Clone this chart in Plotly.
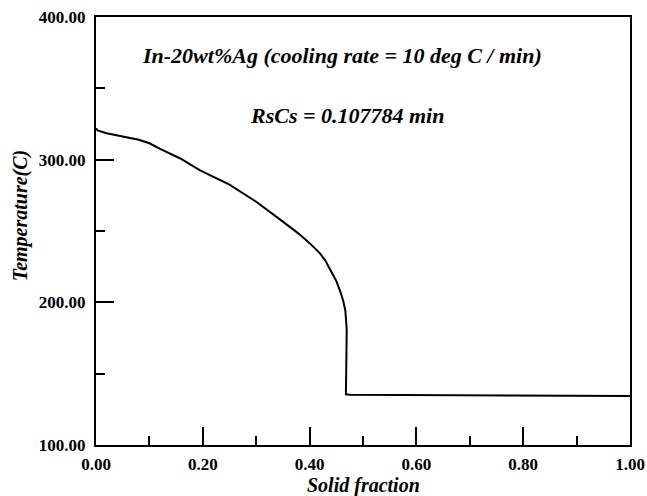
import plotly.graph_objects as go

solid_fraction = [0, 0.003, 0.02, 0.05, 0.08, 0.10, 0.12, 0.157, 0.195, 0.25, 0.30, 0.345, 0.38,
                  0.40, 0.419, 0.43, 0.44, 0.45, 0.458, 0.463, 0.467, 0.4695, 0.469, 0.468,
                  0.4675, 0.468, 0.475, 0.6, 0.8, 1.0]
temperature = [322, 320.5, 318.5, 316.5, 314, 311.5, 307.5, 301, 292.5, 282.5, 270.5, 258, 248,
               241.5, 234.5, 229, 222.5, 215, 207, 201, 194, 181, 165, 150,
               140, 135.5, 135.2, 134.9, 134.6, 134.3]

title_line1 = "In-20wt%Ag (cooling rate = 10 deg C / min)"
title_line2 = "RsCs = 0.107784 min"
x_title = "Solid fraction"
y_title = "Temperature(C)"

FONT = "Liberation Serif"

fig = go.Figure()
fig.add_trace(go.Scatter(x=solid_fraction, y=temperature, mode="lines",
                         line=dict(color="black", width=2), showlegend=False))

axis_common = dict(showline=True, linecolor="black", linewidth=2, mirror=True,
                   ticks="inside", ticklen=18, tickwidth=1.5, tickcolor="black",
                   showgrid=False, zeroline=False, tickformat=".2f", automargin=False,
                   tickfont=dict(family=FONT, size=17, color="black", weight="bold"))

fig.update_xaxes(range=[0, 1], dtick=0.2, tick0=0, ticklabelstandoff=3,
                 minor=dict(dtick=0.1, ticklen=9, ticks="inside", tickcolor="black", tickwidth=1.5),
                 **axis_common)
fig.update_yaxes(range=[100, 400], dtick=100, tick0=100, ticklabelstandoff=5,
                 minor=dict(dtick=50, ticklen=9, ticks="inside", tickcolor="black", tickwidth=1.5),
                 **axis_common)

title_font = dict(family=FONT, color="black", weight="bold", style="italic")
fig.add_annotation(text=y_title, textangle=-90, xref="paper", yref="paper",
                   x=-0.142, y=0.535, xanchor="center", yanchor="middle", showarrow=False,
                   font=dict(size=20, **title_font))
fig.add_annotation(text=x_title, xref="paper", yref="paper",
                   x=0.5, y=-0.094, xanchor="center", yanchor="middle", showarrow=False,
                   font=dict(size=20, **title_font))
fig.add_annotation(text=title_line1, xref="paper", yref="paper", x=0.4616, y=0.909,
                   xanchor="center", yanchor="middle", showarrow=False,
                   font=dict(size=22, **title_font))
fig.add_annotation(text=title_line2, xref="paper", yref="paper", x=0.470, y=0.771,
                   xanchor="center", yanchor="middle", showarrow=False,
                   font=dict(size=22, **title_font))

fig.update_layout(width=647, height=496, paper_bgcolor="white", plot_bgcolor="white",
                  margin=dict(l=96, r=17, t=17, b=51))

fig.write_html("out.html", config={"displayModeBar": False},
               post_script="document.body.style.margin='0';")
